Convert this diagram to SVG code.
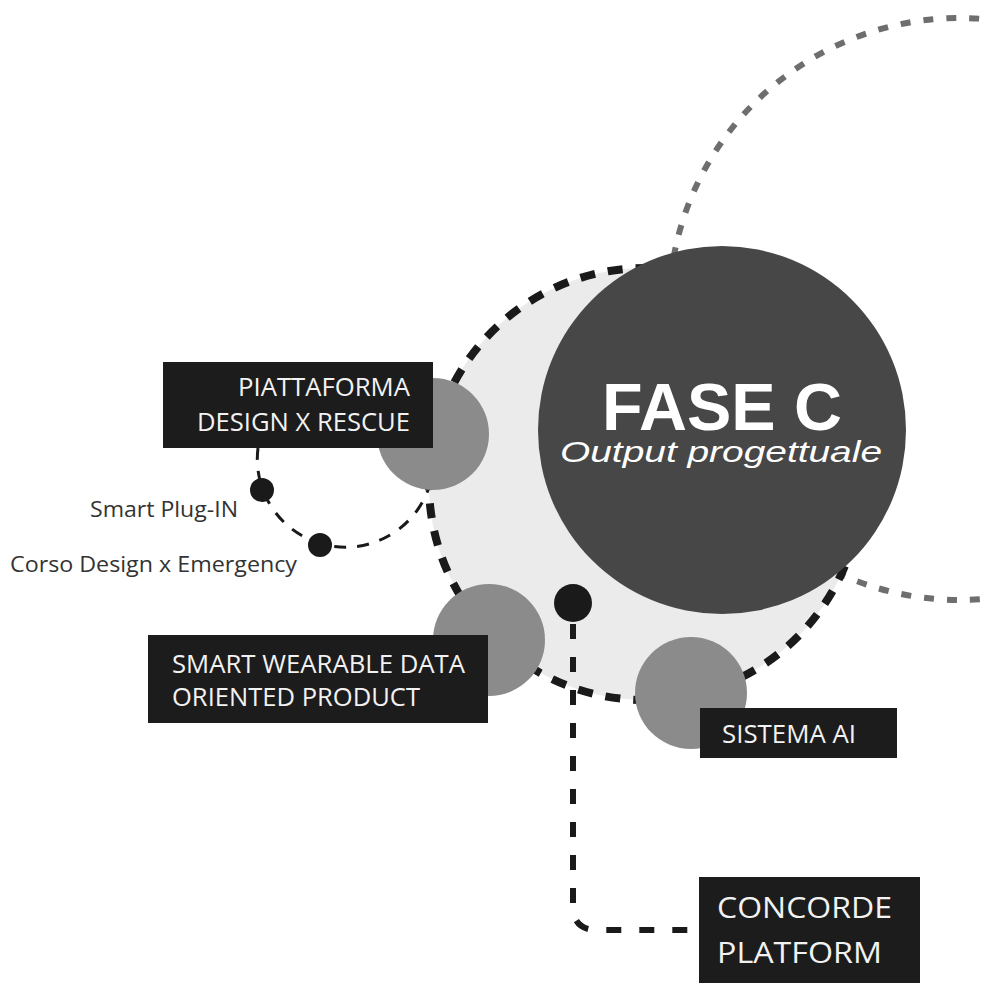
<svg xmlns="http://www.w3.org/2000/svg" width="983" height="983" viewBox="0 0 983 983">
  <style>
    .box { fill: #1c1c1c; }
    .satellite { fill: #8b8b8b; }
    .dot { fill: #1a1a1a; }
    .label { font-family: "Open Sans", "Liberation Sans", sans-serif; font-size: 25px; fill: #f2f2f2; }
    .big { font-size: 29px; }
    .note { font-family: "Open Sans", "Liberation Sans", sans-serif; font-size: 21px; fill: #333333; }
    .title { font-family: "Liberation Sans", Arial, sans-serif; fill: #ffffff; text-anchor: middle; }
    .link-thick { fill: none; stroke: #1a1a1a; stroke-width: 6; stroke-dasharray: 15 18; }
    .link-thin { fill: none; stroke: #1a1a1a; stroke-width: 3; stroke-dasharray: 12 11; }
  </style>

  <rect width="983" height="983" fill="#ffffff"/>

  <!-- outer orbit (grey dashed) -->
  <g id="orbit-outer">
    <circle cx="960" cy="309" r="291" fill="none" stroke="#6e6e6e" stroke-width="6" stroke-dasharray="10 13"/>
  </g>

  <!-- inner orbit: light disc with black dashed rim -->
  <g id="orbit-inner">
    <circle cx="645" cy="484" r="216" fill="#ebebeb" stroke="#1a1a1a" stroke-width="8" stroke-dasharray="15 13"/>
  </g>

  <!-- central phase disc -->
  <g id="fase-c">
    <circle cx="722" cy="430" r="184" fill="#474747"/>
    <text class="title" x="722" y="430" font-size="66" font-weight="bold" textLength="240" lengthAdjust="spacingAndGlyphs">FASE C</text>
    <text class="title" x="721" y="462" font-size="30" font-style="italic" textLength="322" lengthAdjust="spacingAndGlyphs">Output progettuale</text>
  </g>

  <!-- connectors -->
  <g id="connectors">
    <path class="link-thin" d="M258,448 A88,88 0 0 0 433,470"/>
    <path class="link-thick" d="M573,624 V906 Q573,930 597,930 H700"/>
  </g>

  <g id="piattaforma">
    <circle class="satellite" cx="433" cy="434" r="56"/>
    <rect class="box" x="163" y="362" width="270" height="86"/>
    <text class="label" x="410" y="396" text-anchor="end" textLength="172" lengthAdjust="spacingAndGlyphs">PIATTAFORMA</text>
    <text class="label" x="410" y="431" text-anchor="end" textLength="213" lengthAdjust="spacingAndGlyphs">DESIGN X RESCUE</text>
  </g>

  <g id="smart-plug-in">
    <circle class="dot" cx="262" cy="490" r="12"/>
    <text class="note" x="238" y="517" text-anchor="end" textLength="148" lengthAdjust="spacingAndGlyphs">Smart Plug-IN</text>
  </g>

  <g id="corso">
    <circle class="dot" cx="320" cy="545" r="12"/>
    <text class="note" x="10" y="572" textLength="287" lengthAdjust="spacingAndGlyphs">Corso Design x Emergency</text>
  </g>

  <g id="smart-wearable">
    <circle class="satellite" cx="489" cy="640" r="56"/>
    <rect class="box" x="148" y="635" width="340" height="88"/>
    <text class="label" x="172" y="673" textLength="293" lengthAdjust="spacingAndGlyphs">SMART WEARABLE DATA</text>
    <text class="label" x="172" y="706" textLength="248" lengthAdjust="spacingAndGlyphs">ORIENTED PRODUCT</text>
  </g>

  <g id="sistema-ai">
    <circle class="satellite" cx="691" cy="693" r="56"/>
    <rect class="box" x="700" y="708" width="197" height="50"/>
    <text class="label" x="722" y="743" textLength="134" lengthAdjust="spacingAndGlyphs">SISTEMA AI</text>
  </g>

  <g id="concorde-hub">
    <circle class="dot" cx="573" cy="603" r="19"/>
  </g>

  <g id="concorde">
    <rect class="box" x="699" y="877" width="221" height="120"/>
    <text class="label big" x="717" y="918" textLength="175" lengthAdjust="spacingAndGlyphs">CONCORDE</text>
    <text class="label big" x="717" y="963" textLength="165" lengthAdjust="spacingAndGlyphs">PLATFORM</text>
  </g>
</svg>
